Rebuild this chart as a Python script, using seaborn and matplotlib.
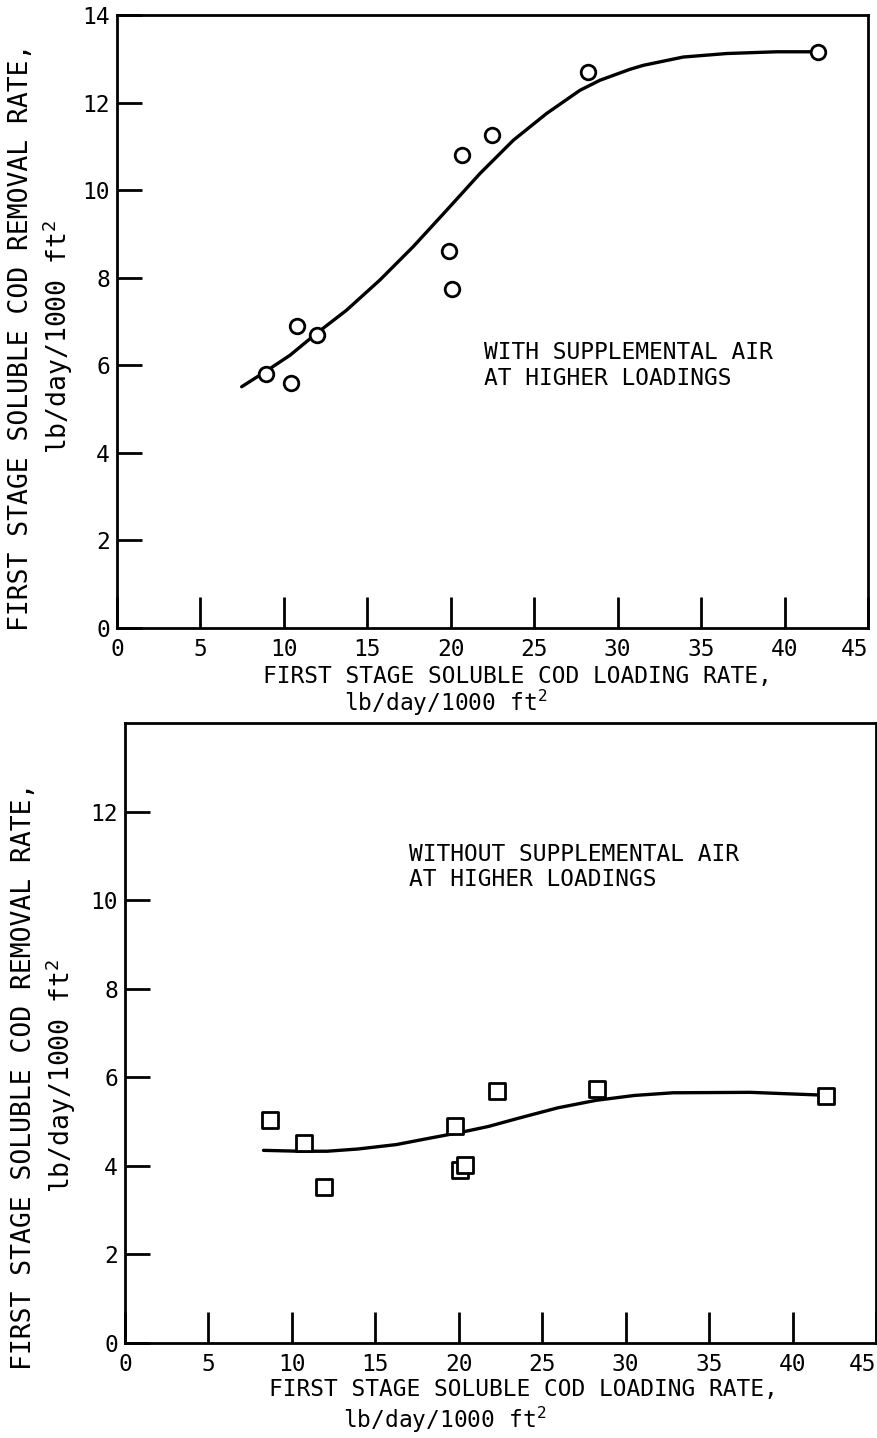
import matplotlib
matplotlib.use("Agg")
import matplotlib.pyplot as plt
import seaborn as sns
import pandas as pd

# ---- data ----
top_x = [8.9, 10.4, 10.8, 12.0, 19.9, 20.1, 20.7, 22.5, 28.2, 42.0]
top_y = [5.8, 5.6, 6.9, 6.7, 8.6, 7.75, 10.8, 11.25, 12.7, 13.15]
top_curve_x = [7.47, 8.87, 10.37, 11.96, 13.76, 15.76, 17.75, 19.75, 21.75, 23.75,
               25.74, 27.74, 28.94, 30.74, 31.53, 33.93, 36.53, 39.52, 41.72]
top_curve_y = [5.51, 5.85, 6.23, 6.73, 7.26, 7.95, 8.71, 9.54, 10.38, 11.14,
               11.75, 12.28, 12.51, 12.76, 12.85, 13.04, 13.12, 13.16, 13.16]

bot_x = [8.7, 10.7, 11.95, 19.8, 20.1, 20.4, 22.3, 28.3, 42.0]
bot_y = [5.04, 4.52, 3.53, 4.89, 3.91, 4.03, 5.68, 5.74, 5.57]
bot_curve_x = [8.3, 10.49, 12.1, 13.94, 16.25, 18.32, 20.16, 21.78, 23.62, 25.93,
               28.23, 30.53, 32.83, 37.45, 41.6]
bot_curve_y = [4.35, 4.33, 4.33, 4.38, 4.48, 4.63, 4.76, 4.89, 5.08, 5.31,
               5.48, 5.59, 5.65, 5.66, 5.6]

x_ticks = [0, 5, 10, 15, 20, 25, 30, 35, 40, 45]
top_y_ticks = [0, 2, 4, 6, 8, 10, 12, 14]
bot_y_ticks = [0, 2, 4, 6, 8, 10, 12]

xlabel_1 = "FIRST STAGE SOLUBLE COD LOADING RATE,"
xlabel_2 = "lb/day/1000 ft$^2$"
ylabel = "FIRST STAGE SOLUBLE COD REMOVAL RATE,\nlb/day/1000 ft$^2$"
top_note = "WITH SUPPLEMENTAL AIR\nAT HIGHER LOADINGS"
bot_note = "WITHOUT SUPPLEMENTAL AIR\nAT HIGHER LOADINGS"

sns.set_theme(style="ticks")
plt.rcParams["font.family"] = ["DejaVu Sans Mono", "DejaVu Sans"]
plt.rcParams["mathtext.default"] = "regular"
FS = 16.5
FSY = 19

fig = plt.figure(figsize=(8.78, 14.38), dpi=100)
ax1 = fig.add_axes([117/878, 1-628/1438, 751/878, 613/1438])
ax2 = fig.add_axes([125/878, 1-1343/1438, 751/878, 620/1438])

panels = [
    (ax1, top_x, top_y, top_curve_x, top_curve_y, "o", top_y_ticks, top_note, (22.0, 6.0),
     (0.533, -0.060), (0.437, -0.122), (-0.056, 0.475)),
    (ax2, bot_x, bot_y, bot_curve_x, bot_curve_y, "s", bot_y_ticks, bot_note, (17.0, 10.75),
     (0.531, -0.056), (0.425, -0.124), (-0.062, 0.43)),
]

for (ax, px, py, cx, cy, mk, yt, note, npos, xl1, xl2, ylpos) in panels:
    dfc = pd.DataFrame({"x": cx, "y": cy})
    dfp = pd.DataFrame({"x": px, "y": py})
    sns.lineplot(data=dfc, x="x", y="y", ax=ax, color="black", lw=2.4,
                 sort=False, estimator=None, zorder=2)
    sns.scatterplot(data=dfp, x="x", y="y", ax=ax, marker=mk, s=110 if mk == "o" else 130,
                    facecolor="white", edgecolor="black", linewidth=2.0, zorder=3)
    ax.set_xlim(0, 45)
    ax.set_ylim(0, 14)
    ax.set_xticks(x_ticks)
    ax.set_yticks(yt)
    ax.tick_params(axis="both", direction="in", colors="black", labelsize=FS,
                   width=2.0, bottom=True, left=True, top=False, right=False)
    ax.tick_params(axis="x", length=22, pad=7)
    ax.tick_params(axis="y", length=18, pad=5)
    labs = ax.get_xticklabels()
    labs[-1].set_horizontalalignment("right")
    for s in ax.spines.values():
        s.set_visible(True)
        s.set_color("black")
        s.set_linewidth(2.0)
    ax.set_xlabel(xlabel_1, fontsize=FS, color="black")
    ax.xaxis.set_label_coords(*xl1)
    ax.text(xl2[0], xl2[1], xlabel_2, transform=ax.transAxes, ha="center", va="center",
            fontsize=FS, color="black")
    ax.set_ylabel(ylabel, fontsize=FSY, color="black", linespacing=1.25)
    ax.yaxis.set_label_coords(*ylpos)
    ax.text(npos[0], npos[1], note, ha="left", va="center", fontsize=FS,
            color="black", linespacing=1.15)

fig.savefig("out.png", dpi=100, facecolor="white")
